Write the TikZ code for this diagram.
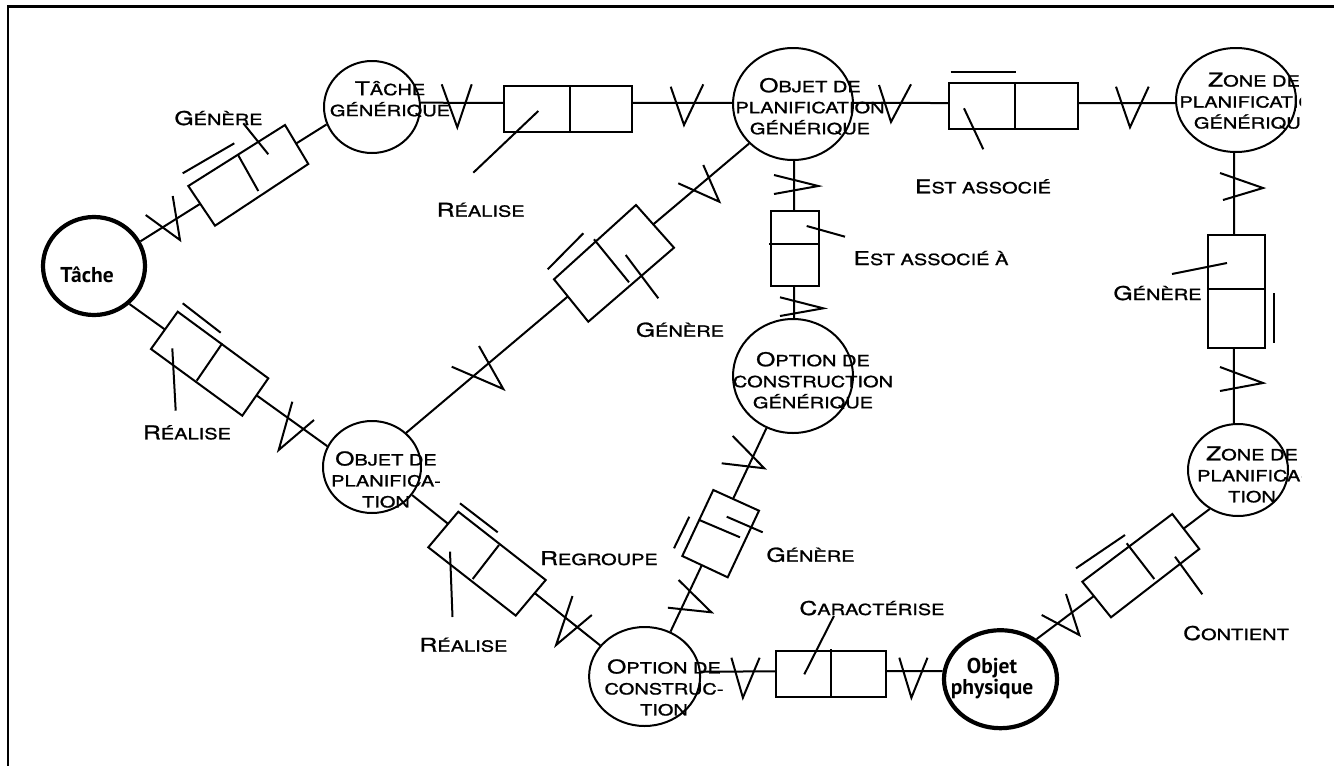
\documentclass[tikz,border=0pt]{standalone}
\usepackage{fontspec}
\usetikzlibrary{shapes.geometric}
\newfontfamily\cop[FakeStretch=1.3,FakeBold=1.2]{TeX Gyre Heros}
\newfontfamily\ptb{PT Sans}
\newcommand\BigL[1]{{\fontsize{19}{21}\selectfont #1}}
\tikzset{
  circ/.style={ellipse, draw, line width=2pt, inner sep=0pt},
  thickcirc/.style={circ, line width=4.2pt},
  ln/.style={line width=2pt},
  relbox/.style={draw, fill=white, line width=2pt},
  ctext/.style={font=\cop\fontsize{15.4}{21}\selectfont, align=center, inner sep=0pt},
  lab/.style={font=\cop\fontsize{15.4}{21}\selectfont, inner sep=0pt, anchor=base},
  btext/.style={font=\ptb\bfseries\fontsize{21.5}{20.6}\selectfont, align=center, inner sep=0pt}
}
\begin{document}
\begin{tikzpicture}[x=1pt,y=-1pt]
\useasboundingbox (0,0) rectangle (1334,766);
% frame
\draw[line width=2.3pt] (7.7,766) -- (7.7,6.5) -- (1334,6.5);

% entities
\node[thickcirc, minimum width=102, minimum height=98] (tache) at (94,266) {};
\node[circ, minimum width=96, minimum height=92] (tgen) at (372,107) {};
\node[circ, minimum width=120, minimum height=112] (opgen) at (793,104) {};
\node[circ, minimum width=120, minimum height=104] (zpgen) at (1236,100) {};
\node[circ, minimum width=120, minimum height=114] (ocgen) at (793,376) {};
\node[circ, minimum width=98, minimum height=92] (op) at (372,467) {};
\node[circ, minimum width=100, minimum height=92] (zp) at (1238,470) {};
\node[circ, minimum width=111, minimum height=99] (oc) at (644.6,676.5) {};
\node[thickcirc, minimum width=113, minimum height=98] (ophys) at (1000.5,679.2) {};

% connectors
\draw[ln] (tache.28) -- (tgen.201);
\draw[ln] (tache.313) -- (op.155);
\draw[ln] (tgen.5) -- (opgen.179);
\draw[ln] (opgen.1) -- (zpgen.183);
\draw[ln] (opgen.271) -- (ocgen.89);
\draw[ln] (opgen.222) -- (op.45);
\draw[ln] (op.325) -- (oc.145);
\draw[ln] (ocgen.243) -- (oc.60);
\draw[ln] (oc.5) -- (ophys.172);
\draw[ln] (ophys.48) -- (zp.234);
\draw[ln] (zpgen.268) -- (zp.95);

% A : Tache - Tache generique
\draw[relbox] (188.3,186) -- (285,125) -- (308.3,164) -- (215,225.7) -- cycle;
\draw[ln] (237.7,154.3) -- (258.3,191);
\draw[ln] (182.7,173.3) -- (234.3,143.3);
\draw[ln] (243.3,123.3) -- (268.3,154.3);
\draw[ln] (145.7,215) -- (180,240) -- (172.7,196);

% B : Tache - Objet de planification
\draw[relbox] (177.7,311.7) -- (268.3,378.3) -- (242.3,415.7) -- (151,349) -- cycle;
\draw[ln] (222.3,343.3) -- (196.7,380.7);
\draw[ln] (182.7,303.3) -- (220.7,332.7);
\draw[ln] (172.3,348.3) -- (175.7,410.7);
\draw[ln] (292.3,401.7) -- (278.7,450) -- (314,420);

% C : Tache generique - Objet de planification generique
\draw[relbox] (504,86) rectangle (632,132);
\draw[ln] (570,86) -- (570,132);
\draw[ln] (538.3,111) -- (473.3,172.7);
\draw[ln] (441.7,84.3) -- (457.3,127.3) -- (471.7,84.3);
\draw[ln] (670.7,86.7) -- (684,125) -- (703.3,84.3);

% D : Objet de planification generique - Zone de planification generique
\draw[relbox] (949,83) rectangle (1078,129);
\draw[ln] (1015,83) -- (1015,129);
\draw[ln] (950.7,71.7) -- (1016,71.7);
\draw[ln] (964,108.3) -- (983.3,149.3);
\draw[ln] (879,85) -- (891,122) -- (911,84.3);
\draw[ln] (1116,86.7) -- (1130,127.3) -- (1148.7,86.7);

% E : Objet de planification generique - Option de construction generique
\draw[relbox] (771,211) rectangle (819,286);
\draw[ln] (769,244) -- (819,244);
\draw[ln] (806.7,226) -- (845,236.7);
\draw[ln] (774,175) -- (818.3,186) -- (774,194);
\draw[ln] (780,297.3) -- (823.3,308.3) -- (780,316);

% F : Objet de planification generique - Objet de planification
\draw[relbox] (636,205) -- (674,247.7) -- (588.3,321.7) -- (554,279.3) -- cycle;
\draw[ln] (594,239.3) -- (629,282.3);
\draw[ln] (625.7,255) -- (658.3,298.3);
\draw[ln] (547.7,269.3) -- (583.3,233.3);
\draw[ln] (678.3,183.3) -- (719.3,201.7) -- (703.3,165);
\draw[ln] (451.7,366.7) -- (503.3,389) -- (479,346);

% G : Objet de planification - Option de construction
\draw[relbox] (458.3,511.7) -- (545.7,580) -- (515.7,615.6) -- (428.3,547.3) -- cycle;
\draw[ln] (499,545) -- (472.7,579);
\draw[ln] (460,503.3) -- (497.7,532.3);
\draw[ln] (450,551.7) -- (452.5,617);
\draw[ln] (572.5,596) -- (556.1,645) -- (591.8,615);

% H : Option de construction generique - Option de construction
\draw[relbox] (713.3,490) -- (759,510.7) -- (727.7,577.3) -- (682.3,556) -- cycle;
\draw[ln] (699.3,520) -- (740,537.3);
\draw[ln] (726.7,516.7) -- (762.7,532.3);
\draw[ln] (689.3,516.7) -- (674,548.3);
\draw[ln] (732.7,436) -- (764.3,468.3) -- (721.7,463.3);
\draw[ln] (678.6,580) -- (711.4,612.3) -- (667.9,607.7);

% I : Option de construction - Objet physique
\draw[relbox] (776,650.7) rectangle (886.4,696.7);
\draw[ln] (831.4,649.3) -- (831.4,696.7);
\draw[ln] (804.3,674.3) -- (833.9,616);
\draw[ln] (731.4,657.7) -- (742.9,697.7) -- (759.6,657.7);
\draw[ln] (899.3,657.7) -- (911.4,697.7) -- (927.5,657.7);

% J : Objet physique - Zone de planification
\draw[relbox] (1172.3,514) -- (1199.3,549) -- (1111,617.3) -- (1082.3,581.7) -- cycle;
\draw[ln] (1126.7,543.3) -- (1154.3,579);
\draw[ln] (1175,556.7) -- (1202.3,594.3);
\draw[ln] (1076,568.3) -- (1125,535);
\draw[ln] (1041.7,615) -- (1079.3,635) -- (1066,594);

% K : Zone de planification generique - Zone de planification
\draw[relbox] (1208,235) rectangle (1265,348);
\draw[ln] (1208,289) -- (1265,289);
\draw[ln] (1274,293) -- (1274,343);
\draw[ln] (1172,274) -- (1227,263);
\draw[ln] (1220,173) -- (1263,188) -- (1223,200);
\draw[ln] (1220,367) -- (1263,383) -- (1220,391);

% entity texts
\node[btext, anchor=base] (tachet) at (87,282.7) {Tâche};
\node[ctext] (tgent) at (390,99) {\BigL{T}ÂCHE\\GÉNÉRIQUE};
\node[ctext] (opgent) at (810,106.5) {\BigL{O}BJET DE\\PLANIFICATION\\GÉNÉRIQUE};
\node[ctext] (ocgent) at (813,380.5) {\BigL{O}PTION DE\\CONSTRUCTION\\GÉNÉRIQUE};
\node[ctext] (opt) at (386,479.5) {\BigL{O}BJET DE\\PLANIFICA-\\TION};
\node[ctext] (oct) at (664,687.5) {\BigL{O}PTION DE\\CONSTRUC-\\TION};
\node[btext] (ophyst) at (992,678.5) {Objet\\physique};
\begin{scope}
\clip (0,0) rectangle (1301,766);
\node[ctext] (zpgent) at (1254,101) {\BigL{Z}ONE DE\\PLANIFICATION\\GÉNÉRIQUE};
\node[ctext] (zpt) at (1252,474.5) {\BigL{Z}ONE DE\\PLANIFICA-\\TION};
\end{scope}

% relation labels
\node[lab] (l1) at (218.5,125) {\BigL{G}ÉNÈRE};
\node[lab] (l2) at (187,439.3) {\BigL{R}ÉALISE};
\node[lab] (l3) at (480.7,216.7) {\BigL{R}ÉALISE};
\node[lab] (l4) at (983,193.3) {\BigL{E}ST ASSOCIÉ};
\node[lab] (l5) at (931,265) {\BigL{E}ST ASSOCIÉ À};
\node[lab] (l6) at (680,336.7) {\BigL{G}ÉNÈRE};
\node[lab] (l7) at (1157.5,300) {\BigL{G}ÉNÈRE};
\node[lab] (l8) at (599,565) {\BigL{R}EGROUPE};
\node[lab] (l9) at (463.5,651.7) {\BigL{R}ÉALISE};
\node[lab] (l10) at (810.5,561.7) {\BigL{G}ÉNÈRE};
\node[lab] (l11) at (872,615) {\BigL{C}ARACTÉRISE};
\node[lab, anchor=base west] (l12) at (1183,640) {\BigL{C}ONTIENT};
\end{tikzpicture}
\end{document}
